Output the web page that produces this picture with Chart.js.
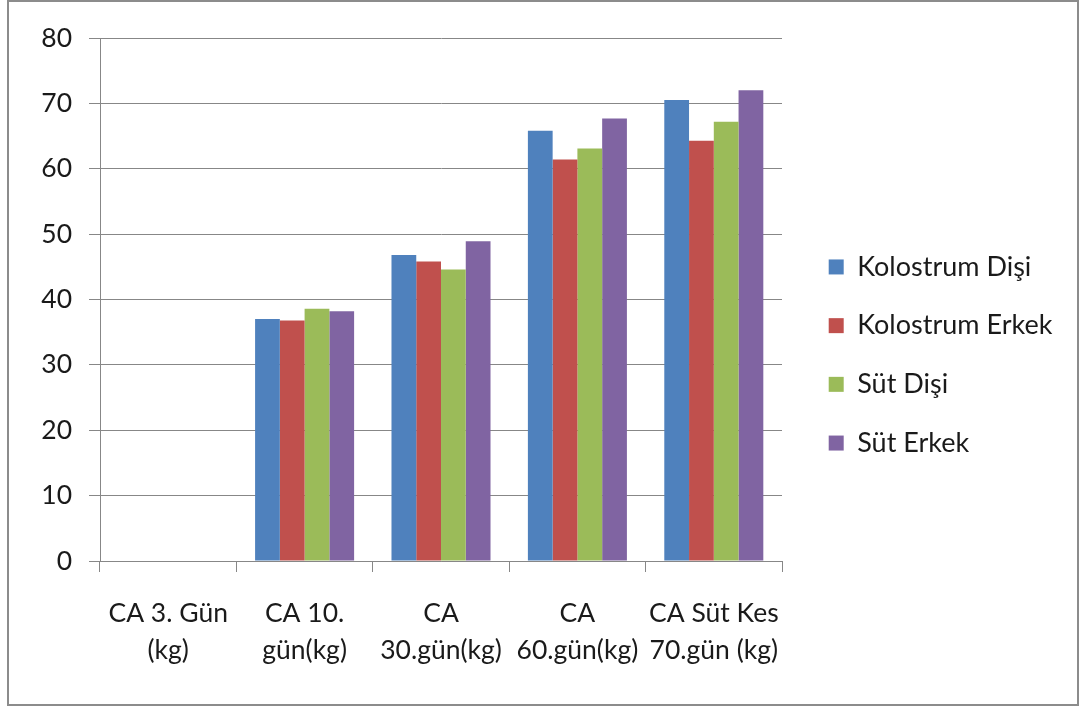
<!DOCTYPE html>
<html>
<head>
<meta charset="utf-8">
<script src="https://cdn.jsdelivr.net/npm/chart.js@4"></script>
<style>
  body { margin: 0; background: #fff; }
  #wrap { position: relative; width: 1084px; height: 709px; }
  #frame { position: absolute; left: 7px; top: 0; width: 1068px; height: 702px; border: 2px solid #8c8c8c; }
  #c { position: absolute; left: 0; top: 0; }
</style>
</head>
<body>
<div id="wrap">
  <div id="frame"></div>
  <canvas id="c" width="1084" height="709"></canvas>
</div>
<script>
'use strict';

// categories + series
var categories = [
    ['CA 3. Gün', '(kg)'],
    ['CA 10.', 'gün(kg)'],
    ['CA', '30.gün(kg)'],
    ['CA', '60.gün(kg)'],
    ['CA Süt Kes', '70.gün (kg)']
];
var kolostrumDisi = [0, 37.0, 46.8, 65.8, 70.5];
var kolostrumErkek = [0, 36.8, 45.8, 61.4, 64.3];
var sutDisi = [0, 38.6, 44.6, 63.1, 67.2];
var sutErkek = [0, 38.2, 48.9, 67.7, 72.0];
var yTicks = [0, 10, 20, 30, 40, 50, 60, 70, 80];

var gridColor = '#878787',
    textColor = '#1a1a1a';

function bar(label, data, color) {
    return {
        label: label,
        data: data,
        backgroundColor: color,
        borderWidth: 0
    };
}

// fixed legend width so the plot ends where the original does
var legendWidth = {
    id: 'legendWidth',
    beforeInit: function (chart) {
        var origFit = chart.legend.fit;
        chart.legend.fit = function () {
            origFit.bind(chart.legend)();
            this.width = 287;
        };
    }
};

new Chart(document.getElementById('c'), {
    type: 'bar',
    data: {
        labels: categories,
        datasets: [
            bar('Kolostrum Dişi', kolostrumDisi, '#4F81BD'),
            bar('Kolostrum Erkek', kolostrumErkek, '#C0504D'),
            bar('Süt Dişi', sutDisi, '#9BBB59'),
            bar('Süt Erkek', sutErkek, '#8064A2')
        ]
    },
    options: {
        responsive: false,
        animation: false,
        layout: { padding: { left: 10, right: 0, top: 38, bottom: 37 } },
        datasets: {
            bar: { categoryPercentage: 0.726, barPercentage: 1 }
        },
        scales: {
            x: {
                offset: true,
                grid: { offset: true, drawOnChartArea: false, drawTicks: true, tickLength: 11, color: gridColor },
                border: { color: gridColor },
                ticks: {
                    color: textColor,
                    padding: 23,
                    maxRotation: 0,
                    autoSkip: false,
                    font: { family: 'Lato', size: 26.5, lineHeight: '37px' }
                },
                afterFit: function (s) { s.height = 709 - 37 - 561; }
            },
            y: {
                min: 0,
                max: 80,
                afterBuildTicks: function (s) {
                    s.ticks = yTicks.map(function (v) { return { value: v }; });
                },
                grid: { color: gridColor, tickLength: 11 },
                border: { color: gridColor },
                ticks: {
                    color: textColor,
                    padding: 17,
                    font: { family: 'Lato', size: 26.5 }
                },
                afterFit: function (s) { s.width = 90; }
            },
            gap: {
                type: 'linear',
                position: 'right',
                grid: { display: false, drawTicks: false },
                border: { display: false },
                ticks: { display: false },
                afterFit: function (s) { s.width = 15; }
            }
        },
        plugins: {
            legend: {
                position: 'right',
                labels: {
                    color: textColor,
                    boxWidth: 15,
                    boxHeight: 15,
                    padding: 31.7,
                    font: { family: 'Lato', size: 27 }
                }
            },
            tooltip: { enabled: false }
        }
    },
    plugins: [legendWidth]
});
</script>
</body>
</html>
